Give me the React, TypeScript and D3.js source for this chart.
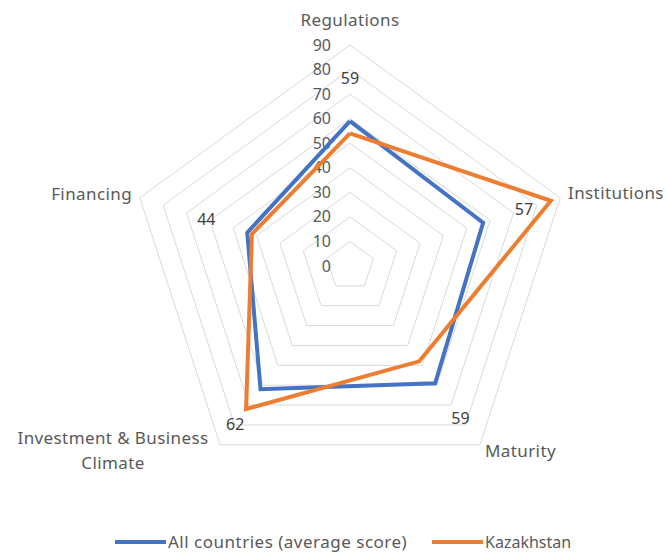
import React, { useEffect, useRef } from "react";
import * as d3 from "d3";

const CATEGORIES = ["Regulations", "Institutions", "Maturity", "Investment & Business Climate", "Financing"];
const ALL_COUNTRIES = [59, 57, 59, 62, 44];
const KAZAKHSTAN = [54, 86, 48, 72, 42];
const TICKS = [0, 10, 20, 30, 40, 50, 60, 70, 80, 90];

const SERIES = [
  { name: "All countries (average score)", values: ALL_COUNTRIES, color: "#4472C4" },
  { name: "Kazakhstan", values: KAZAKHSTAN, color: "#ED7D31" },
];

const W = 666;
const H = 558;
const FONT = "'Noto Sans', 'Open Sans', sans-serif";
const TEXT = "#595959";

export default function App() {
  const ref = useRef<SVGSVGElement | null>(null);

  useEffect(() => {
    const svg = d3.select(ref.current);
    svg.selectAll("*").remove();

    const cx = 350, cy = 266;
    const r = d3.scaleLinear().domain([0, 90]).range([0, 221]);
    const n = CATEGORIES.length;
    const angle = (i: number) => (i * 2 * Math.PI) / n; // 0 = up, clockwise
    const pt = (i: number, v: number): [number, number] => [
      cx + r(v) * Math.sin(angle(i)),
      cy - r(v) * Math.cos(angle(i)),
    ];

    const g = svg.append("g");

    // grid rings (no spokes)
    TICKS.filter(t => t > 0).forEach(t => {
      const pts = d3.range(n).map(i => pt(i, t));
      g.append("path")
        .attr("d", d3.line()([...pts, pts[0]]))
        .attr("fill", "none")
        .attr("stroke", "#d9d9d9")
        .attr("stroke-width", 1);
    });

    // tick labels
    g.append("g").selectAll("text").data(TICKS).join("text")
      .attr("x", cx - 19)
      .attr("y", d => cy - r(d))
      .attr("dy", "0.35em")
      .attr("text-anchor", "end")
      .attr("font-family", FONT).attr("font-size", 16).attr("fill", TEXT)
      .text(d => d);

    // series
    SERIES.forEach(s => {
      const pts = s.values.map((v, i) => pt(i, v));
      g.append("path")
        .attr("d", d3.line()([...pts, pts[0]]))
        .attr("fill", "none")
        .attr("stroke", s.color)
        .attr("stroke-width", 4)
        .attr("stroke-linejoin", "miter");
    });

    // data labels for the average series
    ALL_COUNTRIES.forEach((v, i) => {
      const d = r(v) + 43;
      g.append("text")
        .attr("x", cx + d * Math.sin(angle(i)))
        .attr("y", cy - d * Math.cos(angle(i)))
        .attr("dy", "0.35em")
        .attr("text-anchor", "middle")
        .attr("font-family", FONT).attr("font-size", 16).attr("fill", "#404040")
        .text(v);
    });

    // category labels
    const catPos = [
      { x: 350, y: 20, anchor: "middle" },
      { x: 568, y: 193, anchor: "start" },
      { x: 485, y: 451, anchor: "start" },
      { x: 113, y: 438, anchor: "middle" },
      { x: 132, y: 194, anchor: "end" },
    ];
    CATEGORIES.forEach((c, i) => {
      const p = catPos[i];
      const t = g.append("text")
        .attr("x", p.x).attr("y", p.y)
        .attr("text-anchor", p.anchor)
        .attr("font-family", FONT).attr("font-size", 17)
        .attr("letter-spacing", 0.4).attr("fill", TEXT);
      const lines = c === "Investment & Business Climate" ? ["Investment & Business", "Climate"] : [c];
      lines.forEach((l, k) => {
        t.append("tspan").attr("x", p.x).attr("dy", k === 0 ? "0.35em" : "1.5em").text(l);
      });
    });

    // legend
    const legend = [
      { x: 115, name: SERIES[0].name, color: SERIES[0].color, size: 17, spacing: 0.5 },
      { x: 432, name: SERIES[1].name, color: SERIES[1].color, size: 16, spacing: 0 },
    ];
    legend.forEach(l => {
      g.append("line")
        .attr("x1", l.x).attr("x2", l.x + 51)
        .attr("y1", 542).attr("y2", 542)
        .attr("stroke", l.color).attr("stroke-width", 4);
      g.append("text")
        .attr("x", l.x + 53).attr("y", 542).attr("dy", "0.35em")
        .attr("font-family", FONT).attr("font-size", l.size)
        .attr("letter-spacing", l.spacing).attr("fill", TEXT)
        .text(l.name);
    });
  }, []);

  return (
    <svg
      ref={ref}
      width={W}
      height={H}
      style={{ position: "absolute", left: 0, top: 0, background: "#fff" }}
    />
  );
}
